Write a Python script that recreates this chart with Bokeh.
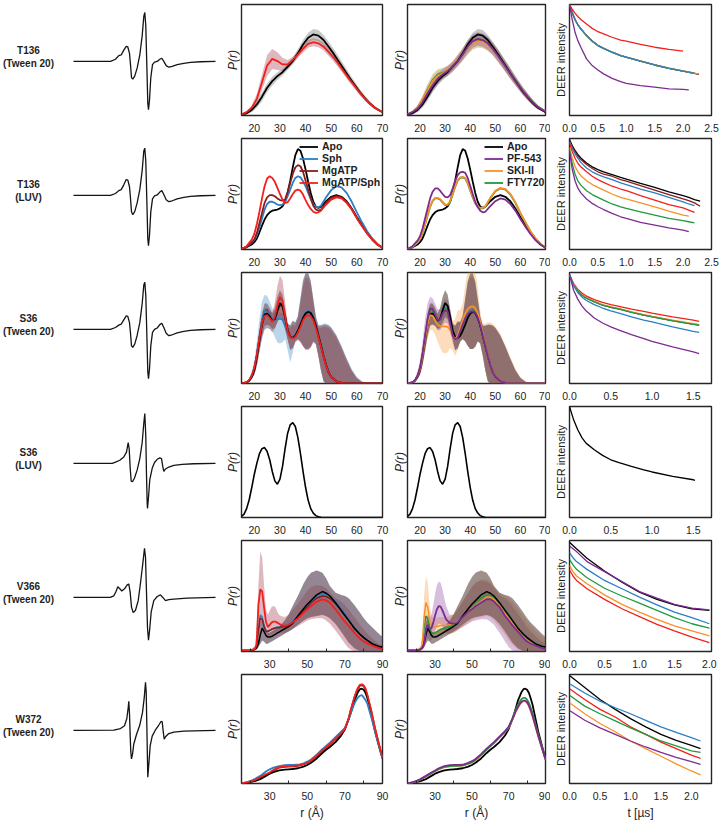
import numpy as np
from bokeh.plotting import figure
from bokeh.layouts import column, row
from bokeh.models import Range1d, FixedTicker, PrintfTickFormatter, Legend, LegendItem
from bokeh.core.properties import value
from bokeh.embed import file_html
from bokeh.resources import INLINE

FONT = "Liberation Sans"
INK = "#1e1e1e"

C_APO = "#000000"
C_SPH = "#2a7fc4"
C_ATP = "#8a1c1c"
C_ATPSPH = "#f2201c"
C_PF = "#7d2b91"
C_SKI = "#f8912a"
C_FTY = "#1f9a3d"

BAND = {
    "apo": ("#6e6e6e", 0.38), "sph": ("#2c7fc0", 0.32), "atp": ("#7a1f2b", 0.28),
    "atpsph": ("#a33a4a", 0.36), "pf": ("#7b2a8f", 0.30), "ski": ("#f58a1f", 0.30),
    "fty": ("#2f9a4a", 0.20),
}

row_labels = [("T136", "(Tween 20)"), ("T136", "(LUV)"), ("S36", "(Tween 20)"),
              ("S36", "(LUV)"), ("V366", "(Tween 20)"), ("W372", "(Tween 20)")]

# ---------------- CW EPR spectra (field offset, derivative signal) ----------------
epr_x_t136 = [0, 37, 42, 45.3, 47.7, 50.3, 52.7, 54.3, 56, 57, 58, 59.3, 61.3, 63.7, 66.3, 68.7, 70.3, 71.3,
              72.3, 73.3, 74.3, 75, 76, 77.3, 79, 81, 83.7, 86.3, 88.3, 90.3, 92.7, 95.3, 98.7, 103.7, 110.3,
              117, 127, 142]
epr_y_t136_tw = [0, 0, 2.3, 6, 6.7, 11.7, 15.7, 15, 8.3, -3.3, -16.7, -18.3, -15, -6.7, 6.7, 26.7, 46.7, 50.7,
                 36.7, -3.3, -43.3, -50, -40, -16.7, -3.3, -0.7, 0, 2.3, 3.3, 0, -4.3, -6, -5, -3.3, -2,
                 -1, -0.3, 0]
epr_y_t136_luv = [0, 0, 2, 5, 6, 11, 16.5, 16, 9, -3, -17, -20, -16.5, -7.5, 6, 26, 46, 49,
                  35, -4, -45, -52, -41, -17, -3.5, -0.5, 0.5, 3.5, 5, 1, -4.5, -6.5, -5.5, -3.5, -2,
                  -1, -0.3, 0]
epr_y_s36_tw = [0, 0, 2, 4.5, 5.5, 10, 14, 13.5, 7, -4, -17, -18.5, -15, -6, 7, 27, 46, 49,
                35, -4, -44, -51, -41, -17, -3, 0, 1.5, 5, 6.5, 2, -4, -6.5, -5.5, -3.5, -2,
                -1, -0.3, 0]
epr_x_s36_luv = [0, 38.7, 42, 46.3, 50.3, 53, 54.7, 55.7, 56.7, 57.7, 59, 61, 63.7, 66.3, 68.7, 70.3, 71.3,
                 72.3, 73, 73.7, 74, 75, 76.3, 78.7, 81, 83.7, 86.3, 88, 89.3, 90.3, 92, 95.3, 100.3,
                 108.7, 120.3, 142]
epr_y_s36_luv = [0, 0, 1.3, 3.3, 6.7, 11.7, 21.7, 15, -5, -18.3, -19, -15, -6.7, 5, 21.7, 41.7, 51.7,
                 28.3, -11.7, -41.7, -46.7, -35, -16.7, -5, 1, 4.3, 5.7, 5, -3.3, -8.3, -5.7, -3.7, -2,
                 -1, -0.3, 0]
epr_x_v366 = [0, 36.7, 40.3, 42.3, 44.3, 46.3, 48.3, 51, 53.7, 55.3, 56.7, 58, 59.7, 62, 64.7, 67, 69.3, 71,
              72, 73, 74, 75, 76, 77.7, 80.3, 83.7, 87, 89.3, 92, 95.3, 100.3, 113.7, 142]
epr_y_v366 = [0, 0, 1.7, 5.7, 11, 9, 6.7, 9, 13, 14, 5, -10, -15.7, -13.3, -3.3, 15, 35, 51,
              41.7, 5, -31.7, -44.3, -35, -15, -3.3, 1, 2.7, 0, -3.3, -2.3, -1.7, -0.7, 0]
epr_x_w372 = [0, 40.3, 47, 51, 53.3, 54.7, 55.3, 56, 56.7, 57.3, 58, 59, 60.3, 63, 66.3, 69, 70.7, 72,
              72.7, 73.3, 74, 74.3, 75.3, 76.7, 78.7, 82, 85.3, 87.7, 88.7, 89.7, 90.7, 92, 95.3, 100.3,
              110.3, 142]
epr_y_w372 = [0, 0.3, 2, 5, 12.3, 24, 30.7, 17.3, -6, -22.7, -30, -25.3, -14.3, -4.3, 5.7, 19, 34, 50.7,
              40.7, 7.3, -32.7, -49.3, -36, -16, -6, 0.7, 5.7, 9.7, 9, -1, -9.3, -6.7, -3.3, -1.7,
              -0.7, 0]

# ---------------- distance distributions P(r), r in Angstrom ----------------
# T136 (Tween 20)
r_t136_tw = [15, 17, 19, 21, 23, 25, 27, 29, 31, 33, 35, 37, 39, 41, 43, 45, 47, 49, 51, 53, 55, 57, 59, 61,
             63, 65, 67, 70]
t136tw_apo = [0.01, 0.02, 0.05, 0.10, 0.17, 0.25, 0.31, 0.355, 0.39, 0.44, 0.49, 0.56, 0.64, 0.70, 0.73, 0.72,
              0.68, 0.62, 0.555, 0.485, 0.415, 0.345, 0.28, 0.215, 0.16, 0.11, 0.07, 0.03]
t136tw_apo_err = [0.005, 0.01, 0.02, 0.03, 0.04, 0.04, 0.04, 0.035, 0.03, 0.03, 0.03, 0.04, 0.04, 0.045, 0.05,
                  0.05, 0.045, 0.045, 0.045, 0.045, 0.04, 0.035, 0.03, 0.028, 0.025, 0.02, 0.015, 0.005]
t136tw_atpsph = [0.01, 0.03, 0.07, 0.15, 0.30, 0.45, 0.51, 0.49, 0.46, 0.46, 0.50, 0.55, 0.60, 0.645, 0.66,
                 0.65, 0.62, 0.57, 0.52, 0.46, 0.395, 0.33, 0.27, 0.21, 0.155, 0.11, 0.07, 0.03]
t136tw_atpsph_err = [0.005, 0.01, 0.02, 0.045, 0.07, 0.095, 0.09, 0.08, 0.06, 0.04, 0.03, 0.03, 0.033, 0.035,
                     0.035, 0.035, 0.035, 0.035, 0.035, 0.035, 0.03, 0.028, 0.025, 0.02, 0.018, 0.015, 0.01,
                     0.005]
t136tw_pf = [0.01, 0.03, 0.06, 0.12, 0.20, 0.27, 0.33, 0.37, 0.40, 0.44, 0.49, 0.55, 0.62, 0.67, 0.69, 0.68,
             0.65, 0.60, 0.54, 0.475, 0.41, 0.345, 0.28, 0.22, 0.165, 0.115, 0.075, 0.035]
t136tw_ski = [0.01, 0.03, 0.07, 0.14, 0.23, 0.31, 0.36, 0.38, 0.405, 0.445, 0.50, 0.55, 0.61, 0.655, 0.67,
              0.665, 0.64, 0.595, 0.54, 0.475, 0.41, 0.345, 0.28, 0.22, 0.165, 0.115, 0.075, 0.035]
t136tw_fty = [0.01, 0.03, 0.07, 0.14, 0.235, 0.32, 0.37, 0.385, 0.40, 0.44, 0.495, 0.55, 0.61, 0.655, 0.675,
              0.67, 0.645, 0.60, 0.545, 0.48, 0.415, 0.35, 0.285, 0.225, 0.17, 0.12, 0.078, 0.035]
t136tw_mix_err = [0.005, 0.012, 0.025, 0.04, 0.05, 0.055, 0.05, 0.045, 0.045, 0.045, 0.05, 0.055, 0.06, 0.06,
                  0.06, 0.06, 0.06, 0.055, 0.055, 0.05, 0.05, 0.045, 0.04, 0.035, 0.03, 0.025, 0.018, 0.008]

# T136 (LUV)
r_t136_luv = [15, 17, 19, 20, 21, 22, 23, 24, 25, 26, 27, 28, 29, 30, 31, 32, 33, 34, 35, 36, 37, 38, 39, 40,
              41, 42, 43, 44, 45, 46, 48, 50, 52, 54, 56, 58, 60, 62, 64, 66, 68, 70]
t136luv_apo = [0.005, 0.02, 0.045, 0.066, 0.10, 0.155, 0.215, 0.27, 0.31, 0.335, 0.35, 0.355, 0.36, 0.37, 0.39,
               0.43, 0.51, 0.62, 0.74, 0.85, 0.905, 0.89, 0.82, 0.72, 0.61, 0.51, 0.43, 0.385, 0.375, 0.385,
               0.435, 0.475, 0.49, 0.475, 0.435, 0.37, 0.29, 0.22, 0.15, 0.09, 0.045, 0.015]
t136luv_sph = [0.005, 0.025, 0.06, 0.085, 0.13, 0.20, 0.28, 0.36, 0.41, 0.43, 0.43, 0.42, 0.405, 0.40, 0.405,
               0.43, 0.48, 0.54, 0.60, 0.645, 0.66, 0.65, 0.615, 0.57, 0.51, 0.455, 0.41, 0.385, 0.38, 0.395,
               0.47, 0.535, 0.57, 0.56, 0.51, 0.43, 0.335, 0.245, 0.165, 0.10, 0.05, 0.015]
t136luv_atp = [0.005, 0.025, 0.065, 0.09, 0.15, 0.24, 0.33, 0.42, 0.47, 0.49, 0.49, 0.48, 0.46, 0.445, 0.44,
               0.45, 0.52, 0.60, 0.68, 0.74, 0.76, 0.75, 0.70, 0.62, 0.54, 0.46, 0.395, 0.36, 0.35, 0.36,
               0.42, 0.465, 0.48, 0.47, 0.43, 0.365, 0.285, 0.215, 0.145, 0.09, 0.045, 0.015]
t136luv_atpsph = [0.005, 0.03, 0.09, 0.14, 0.23, 0.34, 0.46, 0.57, 0.64, 0.66, 0.645, 0.61, 0.555, 0.50, 0.45,
                  0.42, 0.425, 0.46, 0.50, 0.53, 0.54, 0.53, 0.495, 0.445, 0.40, 0.365, 0.34, 0.33, 0.335,
                  0.35, 0.405, 0.45, 0.47, 0.46, 0.42, 0.36, 0.28, 0.21, 0.145, 0.09, 0.045, 0.015]
t136luv_pf = [0.005, 0.03, 0.08, 0.12, 0.19, 0.28, 0.37, 0.46, 0.52, 0.55, 0.55, 0.53, 0.50, 0.475, 0.47,
              0.49, 0.55, 0.62, 0.67, 0.695, 0.70, 0.69, 0.645, 0.575, 0.50, 0.43, 0.38, 0.35, 0.335, 0.34,
              0.39, 0.435, 0.46, 0.45, 0.41, 0.35, 0.275, 0.205, 0.14, 0.085, 0.045, 0.015]
t136luv_ski = [0.005, 0.025, 0.065, 0.095, 0.15, 0.23, 0.31, 0.39, 0.44, 0.465, 0.465, 0.455, 0.43, 0.405,
               0.405, 0.435, 0.50, 0.57, 0.625, 0.65, 0.655, 0.645, 0.60, 0.535, 0.475, 0.42, 0.39, 0.375,
               0.375, 0.39, 0.465, 0.53, 0.555, 0.545, 0.50, 0.425, 0.33, 0.245, 0.165, 0.10, 0.05, 0.015]
t136luv_fty = [0.005, 0.025, 0.063, 0.093, 0.147, 0.226, 0.305, 0.385, 0.435, 0.46, 0.46, 0.45, 0.425, 0.40,
               0.40, 0.43, 0.495, 0.565, 0.62, 0.645, 0.65, 0.64, 0.595, 0.53, 0.47, 0.415, 0.385, 0.37,
               0.37, 0.385, 0.46, 0.525, 0.55, 0.54, 0.495, 0.42, 0.327, 0.243, 0.163, 0.099, 0.05, 0.015]

# S36 (Tween 20)
r_s36_tw = [15, 17, 18, 19, 20, 21, 22, 23, 24, 25, 26, 27, 28, 29, 30, 31, 32, 33, 34, 35, 36, 37, 38, 39,
            40, 41, 42, 43, 44, 45, 46, 47, 48, 49, 50, 52, 54, 56, 58, 60, 62, 65, 70]
s36tw_apo = [0, 0.01, 0.025, 0.06, 0.12, 0.24, 0.39, 0.53, 0.62, 0.63, 0.605, 0.565, 0.58, 0.66, 0.725, 0.70,
             0.60, 0.48, 0.42, 0.41, 0.43, 0.475, 0.53, 0.59, 0.63, 0.645, 0.635, 0.59, 0.52, 0.43, 0.34,
             0.245, 0.165, 0.10, 0.06, 0.02, 0.005, 0, 0, 0, 0, 0, 0]
s36tw_sph = [0, 0.01, 0.03, 0.07, 0.14, 0.26, 0.42, 0.57, 0.655, 0.65, 0.62, 0.585, 0.575, 0.58, 0.585, 0.575,
             0.52, 0.46, 0.42, 0.415, 0.435, 0.48, 0.54, 0.60, 0.64, 0.655, 0.645, 0.60, 0.53, 0.44, 0.345,
             0.25, 0.17, 0.105, 0.065, 0.02, 0.005, 0, 0, 0, 0, 0, 0]
s36tw_atp = [0, 0.01, 0.028, 0.065, 0.13, 0.255, 0.41, 0.56, 0.655, 0.66, 0.62, 0.57, 0.58, 0.65, 0.71, 0.69,
             0.595, 0.48, 0.42, 0.41, 0.43, 0.475, 0.535, 0.595, 0.635, 0.65, 0.64, 0.595, 0.525, 0.435,
             0.342, 0.247, 0.166, 0.10, 0.06, 0.02, 0.005, 0, 0, 0, 0, 0, 0]
s36tw_atpsph = [0, 0.01, 0.03, 0.07, 0.14, 0.26, 0.41, 0.54, 0.61, 0.615, 0.59, 0.555, 0.60, 0.70, 0.78, 0.745,
                0.61, 0.47, 0.415, 0.405, 0.42, 0.46, 0.51, 0.57, 0.605, 0.615, 0.605, 0.57, 0.50, 0.42, 0.33,
                0.24, 0.16, 0.10, 0.06, 0.02, 0.005, 0, 0, 0, 0, 0, 0]
s36tw_pf = [0, 0.01, 0.03, 0.07, 0.145, 0.27, 0.43, 0.58, 0.675, 0.67, 0.62, 0.57, 0.575, 0.63, 0.66, 0.65,
            0.545, 0.43, 0.40, 0.41, 0.47, 0.53, 0.585, 0.625, 0.645, 0.65, 0.64, 0.595, 0.525, 0.435, 0.34,
            0.245, 0.165, 0.10, 0.06, 0.02, 0.005, 0, 0, 0, 0, 0, 0]
s36tw_ski = [0, 0.01, 0.028, 0.065, 0.13, 0.25, 0.40, 0.53, 0.615, 0.61, 0.57, 0.53, 0.515, 0.515, 0.515, 0.51,
             0.485, 0.43, 0.40, 0.43, 0.50, 0.57, 0.63, 0.67, 0.69, 0.695, 0.68, 0.63, 0.545, 0.45, 0.35,
             0.25, 0.165, 0.10, 0.06, 0.02, 0.005, 0, 0, 0, 0, 0, 0]
s36tw_fty = [0, 0.01, 0.028, 0.065, 0.135, 0.255, 0.41, 0.55, 0.64, 0.64, 0.60, 0.56, 0.58, 0.65, 0.68, 0.665,
             0.57, 0.46, 0.415, 0.41, 0.435, 0.485, 0.545, 0.605, 0.645, 0.66, 0.65, 0.60, 0.53, 0.44, 0.345,
             0.25, 0.167, 0.10, 0.06, 0.02, 0.005, 0, 0, 0, 0, 0, 0]
s36tw_env_hi = [0, 0.015, 0.04, 0.09, 0.17, 0.31, 0.48, 0.63, 0.72, 0.72, 0.68, 0.63, 0.68, 0.78, 0.84, 0.80,
                0.67, 0.54, 0.52, 0.56, 0.55, 0.60, 0.76, 0.92, 0.99, 0.99, 0.92, 0.76, 0.60, 0.52, 0.52, 0.53,
                0.53, 0.52, 0.50, 0.43, 0.33, 0.22, 0.12, 0.05, 0.015, 0, 0]
s36tw_env_lo = [0, 0.005, 0.015, 0.04, 0.08, 0.17, 0.30, 0.43, 0.52, 0.53, 0.52, 0.49, 0.50, 0.55, 0.60, 0.58,
                0.50, 0.40, 0.30, 0.32, 0.38, 0.40, 0.38, 0.34, 0.31, 0.31, 0.33, 0.38, 0.36, 0.25, 0.12, 0.02,
                0, 0, 0, 0, 0, 0, 0, 0, 0, 0, 0]
s36tw_sph_hi = [0, 0.02, 0.05, 0.11, 0.21, 0.38, 0.58, 0.74, 0.80, 0.79, 0.74, 0.68, 0.64, 0.64, 0.64, 0.63,
                0.60, 0.53, 0.53, 0.57, 0.55, 0.62, 0.78, 0.94, 1.0, 1.0, 0.93, 0.77, 0.61, 0.53, 0.53, 0.54,
                0.54, 0.53, 0.51, 0.44, 0.34, 0.23, 0.13, 0.06, 0.02, 0, 0]
s36tw_sph_lo = [0, 0.005, 0.015, 0.04, 0.08, 0.16, 0.28, 0.40, 0.48, 0.50, 0.49, 0.47, 0.42, 0.37, 0.36, 0.37,
                0.40, 0.30, 0.19, 0.28, 0.38, 0.40, 0.38, 0.34, 0.31, 0.31, 0.33, 0.38, 0.36, 0.25, 0.12, 0.02,
                0, 0, 0, 0, 0, 0, 0, 0, 0, 0, 0]
s36tw_red_hi = [0, 0.015, 0.04, 0.09, 0.17, 0.30, 0.46, 0.60, 0.68, 0.68, 0.65, 0.64, 0.73, 0.88, 0.97, 0.93,
                0.74, 0.55, 0.50, 0.53, 0.52, 0.58, 0.72, 0.87, 0.95, 0.95, 0.88, 0.73, 0.58, 0.50, 0.50, 0.51,
                0.51, 0.50, 0.48, 0.41, 0.31, 0.20, 0.11, 0.045, 0.01, 0, 0]
s36tw_red_lo = [0, 0.005, 0.015, 0.04, 0.08, 0.16, 0.29, 0.41, 0.49, 0.50, 0.49, 0.46, 0.49, 0.56, 0.60, 0.57,
                0.48, 0.39, 0.31, 0.32, 0.37, 0.39, 0.37, 0.33, 0.30, 0.30, 0.32, 0.37, 0.35, 0.24, 0.11, 0.02,
                0, 0, 0, 0, 0, 0, 0, 0, 0, 0, 0]
s36tw_pf_hi = [0, 0.02, 0.05, 0.11, 0.21, 0.38, 0.58, 0.72, 0.78, 0.77, 0.72, 0.67, 0.67, 0.72, 0.76, 0.75,
               0.65, 0.53, 0.52, 0.55, 0.56, 0.62, 0.76, 0.90, 0.96, 0.96, 0.90, 0.75, 0.60, 0.52, 0.52, 0.53,
               0.53, 0.52, 0.50, 0.43, 0.33, 0.22, 0.12, 0.05, 0.015, 0, 0]
s36tw_pf_lo = [0, 0.005, 0.015, 0.04, 0.08, 0.17, 0.30, 0.44, 0.53, 0.54, 0.52, 0.48, 0.48, 0.52, 0.55, 0.54,
               0.46, 0.37, 0.30, 0.31, 0.37, 0.40, 0.38, 0.34, 0.31, 0.31, 0.33, 0.38, 0.36, 0.25, 0.12, 0.02,
               0, 0, 0, 0, 0, 0, 0, 0, 0, 0, 0]
s36tw_ski_hi = [0, 0.015, 0.04, 0.09, 0.17, 0.31, 0.48, 0.62, 0.70, 0.70, 0.66, 0.62, 0.62, 0.64, 0.65, 0.64,
                0.61, 0.56, 0.58, 0.66, 0.66, 0.72, 0.88, 1.02, 1.08, 1.08, 1.02, 0.86, 0.66, 0.54, 0.54, 0.55,
                0.55, 0.54, 0.52, 0.45, 0.35, 0.24, 0.13, 0.06, 0.02, 0, 0]
s36tw_ski_lo = [0, 0.005, 0.015, 0.04, 0.08, 0.16, 0.28, 0.40, 0.48, 0.48, 0.44, 0.38, 0.32, 0.28, 0.27, 0.28,
                0.32, 0.30, 0.25, 0.30, 0.38, 0.40, 0.38, 0.34, 0.31, 0.31, 0.33, 0.38, 0.36, 0.25, 0.12, 0.02,
                0, 0, 0, 0, 0, 0, 0, 0, 0, 0, 0]

# S36 (LUV)
r_s36_luv = [15, 16, 17, 18, 19, 20, 21, 22, 23, 24, 25, 26, 27, 28, 29, 30, 31, 32, 33, 34, 35, 36, 37, 38,
             39, 40, 41, 42, 43, 44, 45, 46, 48, 50, 55, 60, 65, 70]
s36luv_apo = [0.01, 0.03, 0.08, 0.16, 0.27, 0.39, 0.49, 0.575, 0.62, 0.63, 0.595, 0.52, 0.415, 0.33, 0.30,
              0.345, 0.46, 0.62, 0.76, 0.835, 0.855, 0.82, 0.72, 0.575, 0.415, 0.27, 0.155, 0.08, 0.04, 0.017,
              0.006, 0.002, 0, 0, 0, 0, 0, 0]

# V366 (Tween 20)
r_v366 = [15, 18, 20, 22, 23, 24, 25, 26, 27, 28, 29, 30, 31, 32, 33, 34, 35, 36, 38, 40, 42, 45, 48, 50, 52,
          55, 58, 60, 62, 65, 68, 70, 72, 75, 78, 80, 82, 85, 88, 90]
v366_apo = [0.01, 0.01, 0.012, 0.018, 0.03, 0.07, 0.15, 0.21, 0.18, 0.145, 0.13, 0.13, 0.135, 0.145, 0.155,
            0.165, 0.175, 0.185, 0.205, 0.225, 0.25, 0.32, 0.385, 0.425, 0.46, 0.51, 0.54, 0.525, 0.50, 0.44,
            0.37, 0.325, 0.28, 0.21, 0.155, 0.125, 0.10, 0.065, 0.048, 0.04]
v366_atpsph = [0.01, 0.01, 0.012, 0.02, 0.06, 0.42, 0.56, 0.54, 0.40, 0.27, 0.22, 0.24, 0.26, 0.27, 0.27, 0.26,
               0.25, 0.24, 0.23, 0.24, 0.26, 0.30, 0.35, 0.38, 0.41, 0.45, 0.47, 0.46, 0.44, 0.38, 0.31, 0.27,
               0.23, 0.17, 0.115, 0.09, 0.07, 0.05, 0.03, 0.02]
v366_sph = [0.01, 0.01, 0.012, 0.02, 0.05, 0.20, 0.33, 0.31, 0.24, 0.19, 0.185, 0.19, 0.20, 0.21, 0.215, 0.22,
            0.22, 0.225, 0.23, 0.24, 0.27, 0.32, 0.38, 0.41, 0.45, 0.49, 0.52, 0.515, 0.50, 0.45, 0.39, 0.34,
            0.29, 0.22, 0.16, 0.13, 0.10, 0.07, 0.045, 0.035]
v366_atp = [0.01, 0.01, 0.012, 0.02, 0.045, 0.18, 0.30, 0.29, 0.22, 0.18, 0.18, 0.19, 0.20, 0.205, 0.21, 0.215,
            0.215, 0.22, 0.225, 0.235, 0.26, 0.31, 0.37, 0.40, 0.44, 0.48, 0.50, 0.495, 0.48, 0.43, 0.37,
            0.325, 0.28, 0.21, 0.155, 0.125, 0.095, 0.065, 0.042, 0.032]
v366_pf = [0.01, 0.01, 0.012, 0.018, 0.03, 0.06, 0.20, 0.24, 0.20, 0.21, 0.26, 0.325, 0.38, 0.41, 0.405, 0.37,
           0.33, 0.29, 0.255, 0.25, 0.26, 0.31, 0.36, 0.38, 0.41, 0.44, 0.47, 0.47, 0.45, 0.40, 0.32, 0.28,
           0.235, 0.18, 0.12, 0.09, 0.07, 0.05, 0.03, 0.02]
v366_ski = [0.01, 0.01, 0.012, 0.02, 0.06, 0.30, 0.44, 0.40, 0.28, 0.24, 0.22, 0.22, 0.225, 0.23, 0.235, 0.235,
            0.235, 0.235, 0.24, 0.25, 0.27, 0.31, 0.36, 0.39, 0.42, 0.45, 0.49, 0.49, 0.47, 0.41, 0.34, 0.30,
            0.25, 0.19, 0.13, 0.10, 0.075, 0.05, 0.03, 0.02]
v366_fty = [0.01, 0.01, 0.012, 0.02, 0.05, 0.20, 0.32, 0.30, 0.22, 0.17, 0.165, 0.17, 0.18, 0.19, 0.20, 0.205,
            0.21, 0.215, 0.225, 0.24, 0.265, 0.32, 0.375, 0.405, 0.44, 0.48, 0.51, 0.505, 0.49, 0.44, 0.38,
            0.335, 0.285, 0.215, 0.16, 0.13, 0.10, 0.07, 0.045, 0.035]
v366_env_hi = [0.01, 0.01, 0.015, 0.03, 0.06, 0.12, 0.26, 0.30, 0.24, 0.18, 0.17, 0.17, 0.18, 0.19, 0.20, 0.21,
               0.22, 0.24, 0.28, 0.33, 0.40, 0.50, 0.61, 0.67, 0.71, 0.73, 0.71, 0.66, 0.59, 0.53, 0.51, 0.50,
               0.48, 0.42, 0.35, 0.30, 0.26, 0.21, 0.16, 0.13]
v366_env_lo = [0.005, 0.005, 0.005, 0.01, 0.02, 0.04, 0.07, 0.10, 0.09, 0.07, 0.07, 0.08, 0.09, 0.10, 0.11,
               0.12, 0.13, 0.14, 0.16, 0.18, 0.20, 0.24, 0.28, 0.30, 0.31, 0.32, 0.33, 0.32, 0.30, 0.25, 0.18,
               0.13, 0.08, 0.03, 0.005, 0, 0, 0, 0, 0]
v366_red_hi = [0.01, 0.01, 0.02, 0.05, 0.15, 0.60, 0.90, 0.85, 0.60, 0.38, 0.33, 0.37, 0.40, 0.41, 0.40, 0.36,
               0.33, 0.32, 0.31, 0.33, 0.37, 0.43, 0.50, 0.55, 0.58, 0.60, 0.59, 0.57, 0.53, 0.48, 0.45, 0.42,
               0.38, 0.31, 0.24, 0.20, 0.16, 0.11, 0.07, 0.05]
v366_red_lo = [0.005, 0.005, 0.005, 0.01, 0.02, 0.20, 0.30, 0.30, 0.22, 0.17, 0.14, 0.14, 0.15, 0.16, 0.17,
               0.17, 0.17, 0.17, 0.17, 0.18, 0.20, 0.23, 0.26, 0.28, 0.29, 0.30, 0.30, 0.28, 0.25, 0.19, 0.12,
               0.07, 0.03, 0, 0, 0, 0, 0, 0, 0]
v366_pf_hi = [0.01, 0.01, 0.015, 0.03, 0.05, 0.10, 0.30, 0.33, 0.30, 0.33, 0.42, 0.52, 0.60, 0.63, 0.62, 0.56,
              0.48, 0.41, 0.33, 0.33, 0.37, 0.45, 0.53, 0.58, 0.62, 0.64, 0.63, 0.61, 0.57, 0.51, 0.48, 0.45,
              0.41, 0.34, 0.27, 0.22, 0.18, 0.13, 0.09, 0.07]
v366_pf_lo = [0.005, 0.005, 0.005, 0.01, 0.02, 0.03, 0.10, 0.12, 0.10, 0.10, 0.14, 0.19, 0.23, 0.25, 0.25,
              0.22, 0.19, 0.17, 0.16, 0.17, 0.19, 0.22, 0.25, 0.27, 0.28, 0.29, 0.29, 0.27, 0.24, 0.17, 0.09,
              0.04, 0.01, 0, 0, 0, 0, 0, 0, 0]
v366_ski_hi = [0.01, 0.01, 0.02, 0.05, 0.15, 0.50, 0.68, 0.62, 0.42, 0.33, 0.30, 0.30, 0.30, 0.31, 0.31, 0.31,
               0.31, 0.31, 0.32, 0.34, 0.38, 0.45, 0.53, 0.58, 0.62, 0.65, 0.65, 0.63, 0.59, 0.53, 0.50, 0.48,
               0.45, 0.39, 0.32, 0.27, 0.23, 0.18, 0.13, 0.11]
v366_ski_lo = [0.005, 0.005, 0.005, 0.01, 0.03, 0.12, 0.22, 0.20, 0.16, 0.15, 0.14, 0.14, 0.14, 0.14, 0.14,
               0.14, 0.15, 0.15, 0.16, 0.17, 0.19, 0.22, 0.26, 0.28, 0.30, 0.31, 0.32, 0.31, 0.28, 0.22, 0.15,
               0.10, 0.06, 0.02, 0, 0, 0, 0, 0, 0]

# W372 (Tween 20)
r_w372 = [15, 18, 20, 22, 25, 28, 30, 32, 35, 38, 40, 42, 45, 48, 50, 52, 55, 58, 60, 62, 65, 68, 70, 72, 73,
          74, 75, 76, 77, 78, 79, 80, 81, 82, 83, 84, 85, 86, 87, 88, 89, 90]
w372_apo = [0.0, 0.008, 0.015, 0.022, 0.04, 0.07, 0.09, 0.105, 0.12, 0.127, 0.13, 0.133, 0.14, 0.155, 0.17, 0.19,
            0.23, 0.28, 0.31, 0.335, 0.38, 0.44, 0.50, 0.59, 0.64, 0.70, 0.76, 0.80, 0.84, 0.865, 0.87, 0.86,
            0.83, 0.78, 0.72, 0.64, 0.56, 0.48, 0.415, 0.35, 0.29, 0.23]
w372_atpsph = [0, 0.01, 0.02, 0.03, 0.06, 0.085, 0.10, 0.125, 0.15, 0.158, 0.16, 0.162, 0.165, 0.178, 0.19,
               0.21, 0.255, 0.305, 0.33, 0.36, 0.41, 0.46, 0.50, 0.60, 0.67, 0.73, 0.79, 0.84, 0.88, 0.905,
               0.91, 0.90, 0.87, 0.81, 0.74, 0.67, 0.59, 0.51, 0.44, 0.37, 0.30, 0.24]
w372_sph = [0, 0.012, 0.025, 0.04, 0.07, 0.11, 0.13, 0.145, 0.16, 0.168, 0.17, 0.17, 0.172, 0.185, 0.20, 0.22,
            0.265, 0.315, 0.345, 0.375, 0.425, 0.475, 0.51, 0.59, 0.64, 0.685, 0.73, 0.765, 0.79, 0.805, 0.81,
            0.79, 0.765, 0.73, 0.67, 0.61, 0.545, 0.48, 0.415, 0.35, 0.29, 0.23]
w372_atp = [0, 0.01, 0.02, 0.03, 0.058, 0.083, 0.098, 0.12, 0.145, 0.153, 0.156, 0.158, 0.162, 0.175, 0.188,
            0.208, 0.25, 0.30, 0.328, 0.357, 0.405, 0.455, 0.495, 0.595, 0.665, 0.725, 0.785, 0.835, 0.872,
            0.897, 0.902, 0.892, 0.862, 0.803, 0.735, 0.665, 0.585, 0.505, 0.437, 0.368, 0.30, 0.24]
w372_pf = [0, 0.012, 0.025, 0.04, 0.07, 0.10, 0.12, 0.14, 0.16, 0.168, 0.17, 0.17, 0.172, 0.19, 0.205, 0.225,
           0.27, 0.32, 0.35, 0.38, 0.43, 0.48, 0.52, 0.59, 0.63, 0.67, 0.70, 0.73, 0.75, 0.76, 0.76, 0.745,
           0.715, 0.67, 0.62, 0.56, 0.50, 0.44, 0.385, 0.33, 0.275, 0.22]
w372_fty = [0, 0.011, 0.023, 0.037, 0.066, 0.095, 0.115, 0.133, 0.152, 0.16, 0.162, 0.163, 0.166, 0.182, 0.196,
            0.216, 0.262, 0.312, 0.343, 0.373, 0.425, 0.477, 0.518, 0.595, 0.645, 0.685, 0.72, 0.75, 0.775,
            0.785, 0.785, 0.77, 0.74, 0.695, 0.64, 0.58, 0.515, 0.455, 0.395, 0.34, 0.28, 0.225]
w372_ski = [0, 0.011, 0.022, 0.036, 0.064, 0.093, 0.112, 0.13, 0.15, 0.158, 0.16, 0.161, 0.164, 0.18, 0.194,
            0.214, 0.26, 0.31, 0.34, 0.37, 0.42, 0.47, 0.512, 0.585, 0.625, 0.665, 0.695, 0.725, 0.745, 0.755,
            0.755, 0.74, 0.71, 0.665, 0.615, 0.555, 0.495, 0.435, 0.38, 0.325, 0.27, 0.218]

# ---------------- DEER traces (time in microseconds) ----------------
t_t136_tw = [0, 0.05, 0.1, 0.15, 0.2, 0.3, 0.4, 0.5, 0.6, 0.75, 0.9, 1.0, 1.25, 1.5, 1.75, 2.0, 2.1, 2.2, 2.28]
deer_t136tw_apo = [1.0, 0.925, 0.86, 0.815, 0.78, 0.72, 0.67, 0.63, 0.605, 0.57, 0.54, 0.525, 0.49, 0.455, 0.425,
                   0.40, 0.39, 0.38, 0.37]
deer_t136tw_sph = [1.0, 0.925, 0.862, 0.817, 0.78, 0.72, 0.672, 0.632, 0.605, 0.57, 0.54, 0.525, 0.49, 0.456,
                   0.426, 0.40, 0.39, 0.38]
deer_t136tw_ski = [1.0, 0.927, 0.862, 0.818, 0.782, 0.722, 0.672, 0.632, 0.607, 0.572, 0.542, 0.527, 0.492,
                   0.457, 0.427, 0.402, 0.392, 0.382, 0.372]
deer_t136tw_fty = [1.0, 0.924, 0.86, 0.815, 0.779, 0.719, 0.67, 0.631, 0.604, 0.569, 0.539, 0.524, 0.489, 0.455,
                   0.425, 0.399, 0.389, 0.38]
deer_t136tw_atpsph = [1.0, 0.955, 0.92, 0.89, 0.865, 0.825, 0.785, 0.755, 0.735, 0.705, 0.68, 0.67, 0.64, 0.615,
                      0.595, 0.58]
deer_t136tw_pf = [1.0, 0.86, 0.745, 0.67, 0.615, 0.51, 0.45, 0.41, 0.375, 0.335, 0.305, 0.29, 0.27, 0.255, 0.24,
                  0.235, 0.23]

t_t136_luv = [0, 0.05, 0.1, 0.15, 0.2, 0.3, 0.4, 0.5, 0.6, 0.75, 0.9, 1.0, 1.25, 1.5, 1.75, 2.0, 2.1, 2.2, 2.3]
deer_t136luv_apo = [0.99, 0.935, 0.89, 0.855, 0.825, 0.78, 0.745, 0.72, 0.70, 0.675, 0.65, 0.635, 0.595, 0.56,
                    0.52, 0.485, 0.47, 0.45, 0.435]
deer_t136luv_atp = [0.98, 0.92, 0.875, 0.84, 0.81, 0.765, 0.73, 0.70, 0.68, 0.66, 0.63, 0.615, 0.575, 0.535,
                    0.495, 0.455, 0.44, 0.42, 0.39]
deer_t136luv_sph = [0.97, 0.91, 0.86, 0.82, 0.785, 0.735, 0.70, 0.675, 0.655, 0.63, 0.60, 0.585, 0.545, 0.51,
                    0.47, 0.43, 0.41, 0.395]
deer_t136luv_atpsph = [0.96, 0.88, 0.82, 0.775, 0.745, 0.70, 0.66, 0.63, 0.605, 0.57, 0.545, 0.53, 0.485, 0.445,
                       0.405, 0.375, 0.355, 0.335]
deer_t136luv_ski = [0.92, 0.82, 0.745, 0.70, 0.665, 0.62, 0.585, 0.56, 0.535, 0.50, 0.47, 0.455, 0.42, 0.385,
                    0.345, 0.31, 0.30]
deer_t136luv_fty = [0.90, 0.77, 0.675, 0.615, 0.58, 0.53, 0.495, 0.47, 0.445, 0.41, 0.385, 0.37, 0.34, 0.31,
                    0.28, 0.26, 0.25, 0.24]
deer_t136luv_pf = [0.88, 0.72, 0.615, 0.55, 0.51, 0.455, 0.415, 0.385, 0.36, 0.325, 0.295, 0.28, 0.245, 0.22,
                   0.195, 0.175, 0.16]

t_s36_tw = [0, 0.05, 0.1, 0.15, 0.2, 0.3, 0.4, 0.5, 0.6, 0.75, 0.9, 1.0, 1.25, 1.5, 1.57]
deer_s36tw_atpsph = [0.98, 0.90, 0.85, 0.815, 0.79, 0.755, 0.73, 0.71, 0.695, 0.67, 0.65, 0.635, 0.60, 0.57, 0.56]
deer_s36tw_ski = [0.98, 0.89, 0.84, 0.80, 0.775, 0.74, 0.71, 0.69, 0.675, 0.645, 0.62, 0.605, 0.57, 0.54, 0.53]
deer_s36tw_fty = [0.98, 0.885, 0.835, 0.795, 0.77, 0.735, 0.705, 0.685, 0.67, 0.64, 0.615, 0.60, 0.565, 0.533,
                  0.525]
deer_s36tw_apo = [0.98, 0.887, 0.837, 0.797, 0.772, 0.737, 0.707, 0.687, 0.672, 0.642, 0.617, 0.602, 0.567,
                  0.535, 0.527]
deer_s36tw_sph = [0.98, 0.88, 0.82, 0.78, 0.75, 0.71, 0.68, 0.655, 0.635, 0.60, 0.57, 0.555, 0.51, 0.47, 0.46]
deer_s36tw_pf = [0.98, 0.84, 0.76, 0.70, 0.655, 0.59, 0.545, 0.51, 0.48, 0.44, 0.405, 0.38, 0.33, 0.285, 0.27]

t_s36_luv = [0, 0.05, 0.1, 0.15, 0.2, 0.3, 0.4, 0.5, 0.6, 0.75, 0.9, 1.0, 1.25, 1.5, 1.52]
deer_s36luv_apo = [1.0, 0.88, 0.79, 0.72, 0.67, 0.61, 0.56, 0.52, 0.495, 0.46, 0.43, 0.41, 0.37, 0.34, 0.335]

t_v366 = [0, 0.05, 0.1, 0.25, 0.5, 0.75, 1.0, 1.25, 1.5, 1.75, 2.0]
deer_v366_apo = [0.985, 0.955, 0.925, 0.84, 0.725, 0.625, 0.535, 0.47, 0.42, 0.385, 0.37]
deer_v366_pf = [0.95, 0.925, 0.90, 0.81, 0.72, 0.63, 0.54, 0.48, 0.425, 0.39, 0.375]
deer_v366_sph = [0.89, 0.845, 0.81, 0.74, 0.64, 0.565, 0.49, 0.42, 0.355, 0.305, 0.25]
deer_v366_fty = [0.83, 0.78, 0.74, 0.665, 0.57, 0.50, 0.435, 0.37, 0.305, 0.25, 0.21]
deer_v366_ski = [0.775, 0.72, 0.68, 0.61, 0.51, 0.425, 0.355, 0.29, 0.23, 0.185, 0.14]
deer_v366_atpsph = [0.735, 0.68, 0.64, 0.565, 0.47, 0.385, 0.315, 0.245, 0.185, 0.13, 0.08]

t_w372 = [0, 0.25, 0.5, 0.75, 1.0, 1.25, 1.5, 1.75, 2.0, 2.15]
deer_w372_apo = [0.99, 0.88, 0.77, 0.68, 0.595, 0.52, 0.45, 0.395, 0.35, 0.32]
deer_w372_sph = [0.915, 0.83, 0.755, 0.695, 0.64, 0.58, 0.52, 0.47, 0.42, 0.39]
deer_w372_atpsph = [0.87, 0.77, 0.68, 0.61, 0.52, 0.45, 0.38, 0.32, 0.26, 0.23]
deer_w372_fty = [0.81, 0.71, 0.64, 0.575, 0.51, 0.45, 0.39, 0.345, 0.30, 0.285]
deer_w372_ski = [0.74, 0.64, 0.55, 0.475, 0.39, 0.32, 0.25, 0.18, 0.115, 0.08]
deer_w372_pf = [0.67, 0.58, 0.51, 0.45, 0.39, 0.335, 0.285, 0.24, 0.20, 0.175]

# ---------------- layout geometry ----------------
COLS = {1: (222, 0, 0), 2: (167, 18, 7), 3: (161, 16, 5), 4: (170, 19, 9)}
ROW_H = 134
LAST_H = 152
TOP = 4


def row_size(i):
    return (LAST_H, LAST_H - TOP - 115) if i == 5 else (ROW_H, ROW_H - TOP - 115)


def new_fig(col, i, xr, yr, **kw):
    w, left, right = COLS[col]
    h, bottom = row_size(i)
    p = figure(width=w, height=h, x_range=Range1d(*xr), y_range=Range1d(*yr),
               min_border_left=left, min_border_right=right, min_border_top=TOP,
               min_border_bottom=bottom, output_backend="svg", toolbar_location=None,
               title=None, **kw)
    p.background_fill_color = "white"
    p.border_fill_color = "white"
    return p


def style_axes(p, ticks, minor, ylabel, fmt=None, xlabel=None, ylabel_size="12px",
               ylabel_style="italic", ystand=2):
    p.xgrid.visible = False
    p.ygrid.visible = False
    p.outline_line_color = "#262626"
    p.outline_line_width = 1.4
    ax = p.xaxis[0]
    ax.ticker = FixedTicker(ticks=ticks, minor_ticks=minor)
    if fmt:
        ax.formatter = PrintfTickFormatter(format=fmt)
    ax.axis_line_color = None
    ax.major_tick_line_color = None
    ax.minor_tick_in = 3
    ax.minor_tick_out = 0
    ax.minor_tick_line_color = "#262626"
    ax.minor_tick_line_width = 1
    ax.major_label_text_font = FONT
    ax.major_label_text_font_size = "10.5px"
    ax.major_label_text_color = INK
    ax.major_label_standoff = 2
    if xlabel:
        ax.axis_label = xlabel
        ax.axis_label_text_font = FONT
        ax.axis_label_text_font_size = "12px"
        ax.axis_label_text_font_style = "normal"
        ax.axis_label_text_color = INK
        ax.axis_label_standoff = 3
    ay = p.yaxis[0]
    ay.ticker = FixedTicker(ticks=[])
    ay.axis_line_color = None
    ay.major_tick_line_color = None
    ay.minor_tick_line_color = None
    ay.axis_label = ylabel
    ay.axis_label_text_font = FONT
    ay.axis_label_text_font_size = ylabel_size
    ay.axis_label_text_font_style = ylabel_style
    ay.axis_label_text_color = INK
    ay.axis_label_standoff = ystand


def spectrum_fig(i, x, y, lab):
    w, _, _ = COLS[1]
    h, bottom = row_size(i)
    p = figure(width=w, height=h, x_range=Range1d(-73, 149), y_range=Range1d(-56, 59),
               min_border_left=0, min_border_right=0, min_border_top=TOP, min_border_bottom=bottom,
               x_axis_location=None, y_axis_location=None, output_backend="svg",
               toolbar_location=None, title=None)
    p.grid.visible = False
    p.outline_line_color = None
    p.background_fill_color = "white"
    p.border_fill_color = "white"
    p.line(x, y, color="#141414", line_width=1.3)
    p.text(x=[-45, -45], y=[11, -2.5], text=list(lab), text_font=value(FONT),
           text_font_style="bold", text_font_size=value("10px"), text_align="center",
           text_baseline="middle", text_color=INK)
    return p


def band(p, r, lo, hi, key):
    assert len(r) == len(lo) == len(hi), key
    color, alpha = BAND[key]
    p.varea(x=r, y1=list(lo), y2=list(hi), fill_color=color, fill_alpha=alpha)


def err_band(p, r, v, e, key):
    v = np.array(v)
    e = np.array(e)
    band(p, r, np.maximum(v - e, 0), v + e, key)


def curve(p, r, v, color, width=1.8):
    assert len(r) == len(v), color
    return p.line(r, v, color=color, line_width=width)


def pr_fig(i, col, wide=False):
    if wide:
        p = new_fig(col, i, (15, 90), (0, 1))
        style_axes(p, [30, 50, 70, 90], [20, 40, 60, 80], "P(r)",
                   xlabel="r (Å)" if i == 5 else None, ystand=2 if col == 2 else 1)
    else:
        p = new_fig(col, i, (15, 70), (0, 1))
        style_axes(p, [20, 30, 40, 50, 60, 70], [], "P(r)", ystand=2 if col == 2 else 1)
    return p


def deer_fig(i, xmax, ticks, traces):
    p = new_fig(4, i, (0, xmax), (0, 1.0))
    style_axes(p, ticks, [], "DEER intensity", fmt="%.1f",
               xlabel="t [µs]" if i == 5 else None, ylabel_size="11px", ylabel_style="normal",
               ystand=3)
    for t, y, c in traces:
        p.line(t[:len(y)], y, color=c, line_width=1.3)
    return p


def add_legend(p, items, x, y):
    leg = Legend(items=[LegendItem(label=lab, renderers=[r]) for lab, r in items],
                 location=(x, y), orientation="vertical", padding=0, margin=0, spacing=0,
                 label_height=11, glyph_height=11, glyph_width=19, label_standoff=4,
                 label_text_font=FONT, label_text_font_style="bold", label_text_font_size="10.5px",
                 label_text_color=INK, background_fill_alpha=0, border_line_color=None)
    p.add_layout(leg)


rows = []

# ---- row 0: T136 (Tween 20)
f1 = spectrum_fig(0, epr_x_t136, epr_y_t136_tw, row_labels[0])
f2 = pr_fig(0, 2)
err_band(f2, r_t136_tw, t136tw_atpsph, t136tw_atpsph_err, "atpsph")
err_band(f2, r_t136_tw, t136tw_apo, t136tw_apo_err, "apo")
curve(f2, r_t136_tw, t136tw_apo, C_APO)
curve(f2, r_t136_tw, t136tw_atpsph, C_ATPSPH)
f3 = pr_fig(0, 3)
err_band(f3, r_t136_tw, t136tw_fty, t136tw_mix_err, "fty")
err_band(f3, r_t136_tw, t136tw_ski, t136tw_mix_err, "ski")
err_band(f3, r_t136_tw, t136tw_pf, t136tw_mix_err, "pf")
err_band(f3, r_t136_tw, t136tw_apo, t136tw_apo_err, "apo")
curve(f3, r_t136_tw, t136tw_fty, C_FTY)
curve(f3, r_t136_tw, t136tw_ski, C_SKI)
curve(f3, r_t136_tw, t136tw_apo, C_APO)
curve(f3, r_t136_tw, t136tw_pf, C_PF)
f4 = deer_fig(0, 2.5, [0, 0.5, 1.0, 1.5, 2.0, 2.5], [
    (t_t136_tw, deer_t136tw_apo, C_APO), (t_t136_tw, deer_t136tw_fty, C_FTY),
    (t_t136_tw, deer_t136tw_ski, C_SKI), (t_t136_tw, deer_t136tw_sph, C_SPH),
    (t_t136_tw, deer_t136tw_atpsph, C_ATPSPH), (t_t136_tw, deer_t136tw_pf, C_PF)])
rows.append([f1, f2, f3, f4])

# ---- row 1: T136 (LUV)
f1 = spectrum_fig(1, epr_x_t136, epr_y_t136_luv, row_labels[1])
f2 = pr_fig(1, 2)
la = curve(f2, r_t136_luv, t136luv_apo, C_APO)
ls = curve(f2, r_t136_luv, t136luv_sph, C_SPH)
lm = curve(f2, r_t136_luv, t136luv_atp, C_ATP)
lr = curve(f2, r_t136_luv, t136luv_atpsph, C_ATPSPH)
add_legend(f2, [("Apo", la), ("Sph", ls), ("MgATP", lm), ("MgATP/Sph", lr)], 58, 61)
f3 = pr_fig(1, 3)
la3 = curve(f3, r_t136_luv, t136luv_apo, C_APO)
lf = curve(f3, r_t136_luv, t136luv_fty, C_FTY)
lk = curve(f3, r_t136_luv, t136luv_ski, C_SKI)
lp = curve(f3, r_t136_luv, t136luv_pf, C_PF)
add_legend(f3, [("Apo", la3), ("PF-543", lp), ("SKI-II", lk), ("FTY720", lf)], 77, 61)
f4 = deer_fig(1, 2.5, [0, 0.5, 1.0, 1.5, 2.0, 2.5], [
    (t_t136_luv, deer_t136luv_apo, C_APO), (t_t136_luv, deer_t136luv_atp, C_ATP),
    (t_t136_luv, deer_t136luv_sph, C_SPH), (t_t136_luv, deer_t136luv_atpsph, C_ATPSPH),
    (t_t136_luv, deer_t136luv_ski, C_SKI), (t_t136_luv, deer_t136luv_fty, C_FTY),
    (t_t136_luv, deer_t136luv_pf, C_PF)])
rows.append([f1, f2, f3, f4])

# ---- row 2: S36 (Tween 20)
f1 = spectrum_fig(2, epr_x_t136, epr_y_s36_tw, row_labels[2])
f2 = pr_fig(2, 2)
band(f2, r_s36_tw, s36tw_sph_lo, s36tw_sph_hi, "sph")
band(f2, r_s36_tw, s36tw_red_lo, s36tw_red_hi, "atpsph")
band(f2, r_s36_tw, s36tw_env_lo, s36tw_env_hi, "apo")
band(f2, r_s36_tw, s36tw_env_lo, s36tw_env_hi, "atp")
curve(f2, r_s36_tw, s36tw_atp, C_ATP)
curve(f2, r_s36_tw, s36tw_sph, C_SPH)
curve(f2, r_s36_tw, s36tw_apo, C_APO)
curve(f2, r_s36_tw, s36tw_atpsph, C_ATPSPH)
f3 = pr_fig(2, 3)
band(f3, r_s36_tw, s36tw_ski_lo, s36tw_ski_hi, "ski")
band(f3, r_s36_tw, s36tw_pf_lo, s36tw_pf_hi, "pf")
band(f3, r_s36_tw, s36tw_env_lo, s36tw_env_hi, "fty")
band(f3, r_s36_tw, s36tw_env_lo, s36tw_env_hi, "apo")
band(f3, r_s36_tw, s36tw_env_lo, s36tw_env_hi, "atp")
curve(f3, r_s36_tw, s36tw_fty, C_FTY)
curve(f3, r_s36_tw, s36tw_apo, C_APO)
curve(f3, r_s36_tw, s36tw_ski, C_SKI)
curve(f3, r_s36_tw, s36tw_pf, C_PF)
f4 = deer_fig(2, 1.72, [0, 0.5, 1.0, 1.5], [
    (t_s36_tw, deer_s36tw_apo, C_APO), (t_s36_tw, deer_s36tw_atpsph, C_ATPSPH),
    (t_s36_tw, deer_s36tw_ski, C_SKI), (t_s36_tw, deer_s36tw_fty, C_FTY),
    (t_s36_tw, deer_s36tw_sph, C_SPH), (t_s36_tw, deer_s36tw_pf, C_PF)])
rows.append([f1, f2, f3, f4])

# ---- row 3: S36 (LUV)
f1 = spectrum_fig(3, epr_x_s36_luv, epr_y_s36_luv, row_labels[3])
f2 = pr_fig(3, 2)
curve(f2, r_s36_luv, s36luv_apo, C_APO, 1.6)
f3 = pr_fig(3, 3)
curve(f3, r_s36_luv, s36luv_apo, C_APO, 1.6)
f4 = deer_fig(3, 1.72, [0, 0.5, 1.0, 1.5], [(t_s36_luv, deer_s36luv_apo, C_APO)])
rows.append([f1, f2, f3, f4])

# ---- row 4: V366 (Tween 20)
f1 = spectrum_fig(4, epr_x_v366, epr_y_v366, row_labels[4])
f2 = pr_fig(4, 2, wide=True)
band(f2, r_v366, v366_env_lo, v366_env_hi, "sph")
band(f2, r_v366, v366_red_lo, v366_red_hi, "atpsph")
band(f2, r_v366, v366_env_lo, v366_env_hi, "apo")
band(f2, r_v366, v366_env_lo, v366_env_hi, "atp")
curve(f2, r_v366, v366_sph, C_SPH, 1.5)
curve(f2, r_v366, v366_atp, C_ATP, 1.5)
curve(f2, r_v366, v366_apo, C_APO, 1.5)
curve(f2, r_v366, v366_atpsph, C_ATPSPH)
f3 = pr_fig(4, 3, wide=True)
band(f3, r_v366, v366_ski_lo, v366_ski_hi, "ski")
band(f3, r_v366, v366_pf_lo, v366_pf_hi, "pf")
band(f3, r_v366, v366_env_lo, v366_env_hi, "fty")
band(f3, r_v366, v366_env_lo, v366_env_hi, "apo")
band(f3, r_v366, v366_env_lo, v366_env_hi, "atp")
curve(f3, r_v366, v366_fty, C_FTY, 1.5)
curve(f3, r_v366, v366_ski, C_SKI, 1.5)
curve(f3, r_v366, v366_apo, C_APO, 1.5)
curve(f3, r_v366, v366_pf, C_PF)
f4 = deer_fig(4, 2.03, [0, 0.5, 1.0, 1.5, 2.0], [
    (t_v366, deer_v366_apo, C_APO), (t_v366, deer_v366_pf, C_PF), (t_v366, deer_v366_sph, C_SPH),
    (t_v366, deer_v366_fty, C_FTY), (t_v366, deer_v366_ski, C_SKI),
    (t_v366, deer_v366_atpsph, C_ATPSPH)])
rows.append([f1, f2, f3, f4])

# ---- row 5: W372 (Tween 20)
f1 = spectrum_fig(5, epr_x_w372, epr_y_w372, row_labels[5])
f2 = pr_fig(5, 2, wide=True)
curve(f2, r_w372, w372_atp, C_ATP)
curve(f2, r_w372, w372_apo, C_APO)
curve(f2, r_w372, w372_sph, C_SPH)
curve(f2, r_w372, w372_atpsph, C_ATPSPH)
f3 = pr_fig(5, 3, wide=True)
curve(f3, r_w372, w372_apo, C_APO)
curve(f3, r_w372, w372_ski, C_SKI)
curve(f3, r_w372, w372_fty, C_FTY)
curve(f3, r_w372, w372_pf, C_PF)
f4 = deer_fig(5, 2.33, [0, 0.5, 1.0, 1.5, 2.0], [
    (t_w372, deer_w372_apo, C_APO), (t_w372, deer_w372_sph, C_SPH),
    (t_w372, deer_w372_atpsph, C_ATPSPH), (t_w372, deer_w372_fty, C_FTY),
    (t_w372, deer_w372_ski, C_SKI), (t_w372, deer_w372_pf, C_PF)])
rows.append([f1, f2, f3, f4])

layout = column(*[row(*r, spacing=0) for r in rows], spacing=0)

with open("out.html", "w") as fh:
    fh.write(file_html(layout, INLINE, title="EPR and DEER panels"))
